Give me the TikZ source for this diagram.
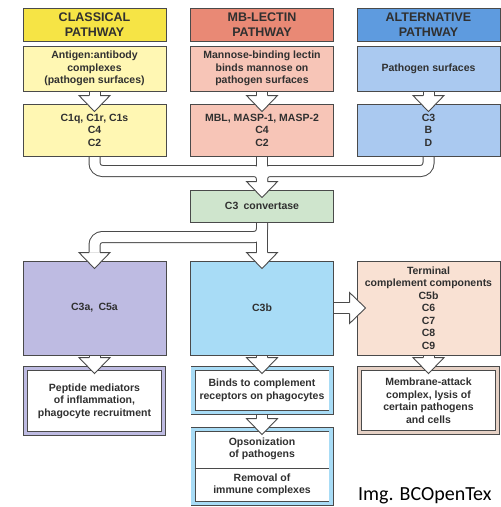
\documentclass[tikz,border=0pt]{standalone}
\usepackage{fontspec}
\setmainfont{Liberation Sans}
\newfontfamily\credfont{Carlito}
\usepackage{tikz}
\usetikzlibrary{calc,backgrounds}
\definecolor{linegray}{HTML}{4A4A4A}
\definecolor{txtgray}{HTML}{303030}
\definecolor{clhead}{HTML}{F6E445}
\definecolor{clbody}{HTML}{FFF7B3}
\definecolor{mbhead}{HTML}{E98975}
\definecolor{mbbody}{HTML}{F7C5B7}
\definecolor{alhead}{HTML}{5E9BDF}
\definecolor{albody}{HTML}{AAC9F0}
\definecolor{convfill}{HTML}{CFE5CD}
\definecolor{anaphfill}{HTML}{BEBBE2}
\definecolor{cthreeb}{HTML}{A8DCF6}
\definecolor{termfill}{HTML}{F9E1D3}
\definecolor{macband}{HTML}{E6D1C5}
\tikzset{
  box/.style={draw=linegray,line width=0.9pt,text=txtgray,align=center,inner sep=1pt,
    font=\bfseries\fontsize{10.5}{12.5}\selectfont,minimum width=143pt},
  hdr/.style={box,font=\bfseries\fontsize{12.5}{14.5}\selectfont,minimum height=33pt},
  outbox/.style={box,fill=white,line width=0.8pt,double=#1,double distance=3.4pt,minimum width=138pt},
  txt/.style={text=txtgray,align=center,inner sep=1pt,font=\bfseries\fontsize{10.5}{12.5}\selectfont},
  pipe/.style={line width=12pt,draw=linegray,rounded corners=8pt},
  pipein/.style={line width=10pt,draw=white,rounded corners=8pt}
}
% open arrow head, tip at #1, turned by #2
\newcommand{\hollowhead}[2]{%
  \begin{scope}[shift={(#1)},rotate=#2]
    \fill[white] (-15.5,16) -- (0,0) -- (15.5,16) -- cycle;
    \draw[linegray,line width=0.9pt] (-5.5,16) -- (-15.5,16) -- (0,0) -- (15.5,16) -- (5.5,16);
  \end{scope}}

\begin{document}
\begin{tikzpicture}[x=1pt,y=1pt]
\useasboundingbox (0,0) rectangle (501,-507);

% pathways
\node[hdr,fill=clhead] (clhd) at (94.5,-24.5) {CLASSICAL\\PATHWAY};
\node[hdr,fill=mbhead] (mbhd) at (262,-24.5) {MB-LECTIN\\PATHWAY};
\node[hdr,fill=alhead] (alhd) at (428.5,-24.5) {ALTERNATIVE\\PATHWAY};
\node[box,fill=clbody,minimum height=45pt] (clsrc) at (94.5,-68.5) {Antigen:antibody\\complexes\\(pathogen surfaces)};
\node[box,fill=mbbody,minimum height=45pt] (mbsrc) at (262,-68.5) {Mannose-binding lectin\\binds mannose on\\pathogen surfaces};
\node[box,fill=albody,minimum height=45pt] (alsrc) at (428.5,-68.5) {Pathogen surfaces};
\node[box,fill=clbody,minimum height=52pt] (clcomp) at (94.5,-130) {C1q, C1r, C1s\\C4\\C2};
\node[box,fill=mbbody,minimum height=52pt] (mbcomp) at (262,-130) {MBL, MASP-1, MASP-2\\C4\\C2};
\node[box,fill=albody,minimum height=52pt] (alcomp) at (428.5,-130) {C3\\B\\D};

\node[box,fill=convfill,minimum height=32pt] (conv) at (262,-206) {C3\enspace convertase};

% effectors
\node[box,fill=anaphfill,minimum height=94pt] (anaph) at (94.5,-308) {C3a,\enspace C5a};
\node[box,fill=cthreeb,minimum height=94pt] (c3b) at (262,-308) {C3b};
\node[box,fill=termfill,minimum height=94pt] (term) at (428.5,-308) {Terminal\\complement components\\C5b\\C6\\C7\\C8\\C9};

\node[outbox=anaphfill,minimum height=65pt] (pept) at (94.5,-401) {Peptide mediators\\of inflammation,\\phagocyte recruitment};
\node[outbox=cthreeb,minimum height=44pt] (binds) at (262,-390.5) {Binds to complement\\receptors on phagocytes};
\node[outbox=macband,minimum height=64pt] (mac) at (428.5,-400.5) {Membrane-attack\\complex, lysis of\\certain pathogens\\and cells};
\node[outbox=cthreeb,minimum height=74pt] (ops) at (262,-466.5) {};
\coordinate (opsdiv) at (0,-468);
\draw[linegray,line width=0.8pt] ($(ops.west |- opsdiv)+(2.1,0)$) -- ($(ops.east |- opsdiv)+(-2.1,0)$);
\node[txt] (opsup) at (262,-449) {Opsonization\\of pathogens};
\node[txt] (opslow) at (262,-485) {Removal of\\immune complexes};

\node[font=\credfont\fontsize{20}{24}\selectfont,anchor=base west,inner sep=0pt] (credit) at (358,-500.5) {Img. BCOpenTex};

% open arrows
\coordinate (mrg) at (0,-171);
\coordinate (spl) at (0,-237);
\begin{pgfonlayer}{background}
\fill[white] (0,0) rectangle (501,-507);
\foreach \lay in {pipe,pipein}{
  \draw[\lay] (clsrc.south) -- ($(clcomp.north)+(0,8)$);
  \draw[\lay] (mbsrc.south) -- ($(mbcomp.north)+(0,8)$);
  \draw[\lay] (alsrc.south) -- ($(alcomp.north)+(0,8)$);
  \draw[\lay] (clcomp.south) |- (conv.north |- mrg) -- ($(conv.north)+(0,8)$);
  \draw[\lay] (alcomp.south) |- (conv.north |- mrg) -- ($(conv.north)+(0,8)$);
  \draw[\lay] (mbcomp.south) -- ($(conv.north)+(0,8)$);
  \draw[\lay] (conv.south) -- ($(c3b.north)+(0,8)$);
  \draw[\lay] (conv.south) |- (anaph.north |- spl) -- ($(anaph.north)+(0,8)$);
  \draw[\lay] (c3b.east) -- ($(term.west)+(-7,0)$);
  \draw[\lay] (anaph.south) -- ($(pept.north)+(0,10.5)$);
  \draw[\lay] (c3b.south) -- ($(binds.north)+(0,10.5)$);
  \draw[\lay] (term.south) -- ($(mac.north)+(0,10.5)$);
  \draw[\lay] (binds.south) -- ($(ops.north)+(0,10.5)$);
}
\end{pgfonlayer}
\coordinate (cltip) at ($(clcomp.north)+(0,-8)$);
\coordinate (mbtip) at ($(mbcomp.north)+(0,-8)$);
\coordinate (altip) at ($(alcomp.north)+(0,-8)$);
\coordinate (convtip) at ($(conv.north)+(0,-8)$);
\coordinate (anaphtip) at ($(anaph.north)+(0,-8)$);
\coordinate (c3btip) at ($(c3b.north)+(0,-8)$);
\coordinate (termtip) at ($(term.west)+(9,0)$);
\coordinate (pepttip) at ($(pept.north)+(0,-5.5)$);
\coordinate (bindstip) at ($(binds.north)+(0,-5.5)$);
\coordinate (mactip) at ($(mac.north)+(0,-5.5)$);
\coordinate (opstip) at ($(ops.north)+(0,-5.5)$);
\foreach \t in {cltip,mbtip,altip,convtip,anaphtip,c3btip,pepttip,bindstip,mactip,opstip}
  \hollowhead{\t}{0};
\hollowhead{termtip}{90}
\end{tikzpicture}
\end{document}
